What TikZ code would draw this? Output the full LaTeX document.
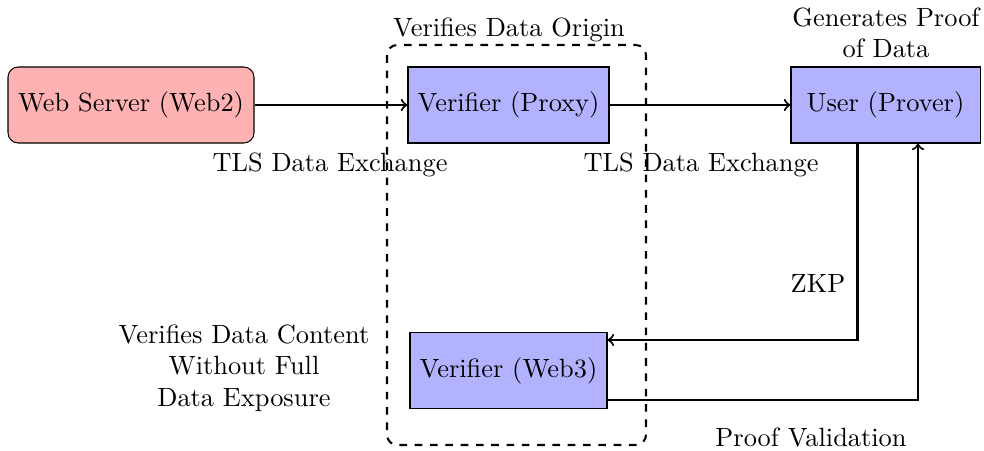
\documentclass[tikz,border=0pt]{standalone}
\usetikzlibrary{calc}
\tikzset{
  every node/.style={font=\fontsize{10.35pt}{12.4pt}\selectfont},
  box/.style={draw, thin, minimum height=76*0.3922pt, inner sep=0pt, align=center},
  redbox/.style={box, fill=red!30, rounded corners=4pt},
  bluebox/.style={box, fill=blue!30},
  conn/.style={thick, ->},
  lbl/.style={inner sep=0pt, align=center}
}
\begin{document}
\begin{tikzpicture}[x=0.3922pt,y=-0.3922pt]
\useasboundingbox (0,0) rectangle (984,450);
% dashed group
\draw[thick, dashed, rounded corners=4pt] (387,45) rectangle (646,445);
% nodes
\node[redbox, minimum width=246*0.3922pt] (web2) at (131,105) {Web Server (Web2)};
\node[bluebox, minimum width=201*0.3922pt] (proxy) at (508.5,105) {Verifier (Proxy)};
\node[bluebox, minimum width=189*0.3922pt] (user) at (885.5,105) {User (Prover)};
\node[bluebox, minimum width=197*0.3922pt] (web3) at (508.5,370.5) {Verifier (Web3)};
% connectors
\draw[conn] (web2) -- (proxy);
\draw[conn] (proxy) -- (user);
\draw[conn] ($(user.south)+(-28,0)$) |- ($(web3.east)+(0,-30.5)$);
\draw[conn] ($(web3.east)+(0,29.5)$) -| ($(user.south)+(32.5,0)$);
% labels
\node[lbl] (lorigin) at (509,30) {Verifies Data Origin};
\node[lbl] (lgen) at (886,33) {Generates Proof\\of Data};
\node[lbl] (ltls1) at (330,165) {TLS Data Exchange};
\node[lbl] (ltls2) at (701,165) {TLS Data Exchange};
\node[lbl] (lzkp) at (818,283) {ZKP};
\node[lbl] (lcontent) at (244,368) {Verifies Data Content\\Without Full\\Data Exposure};
\node[lbl] (lvalid) at (811,437.5) {Proof Validation};
\end{tikzpicture}
\end{document}
